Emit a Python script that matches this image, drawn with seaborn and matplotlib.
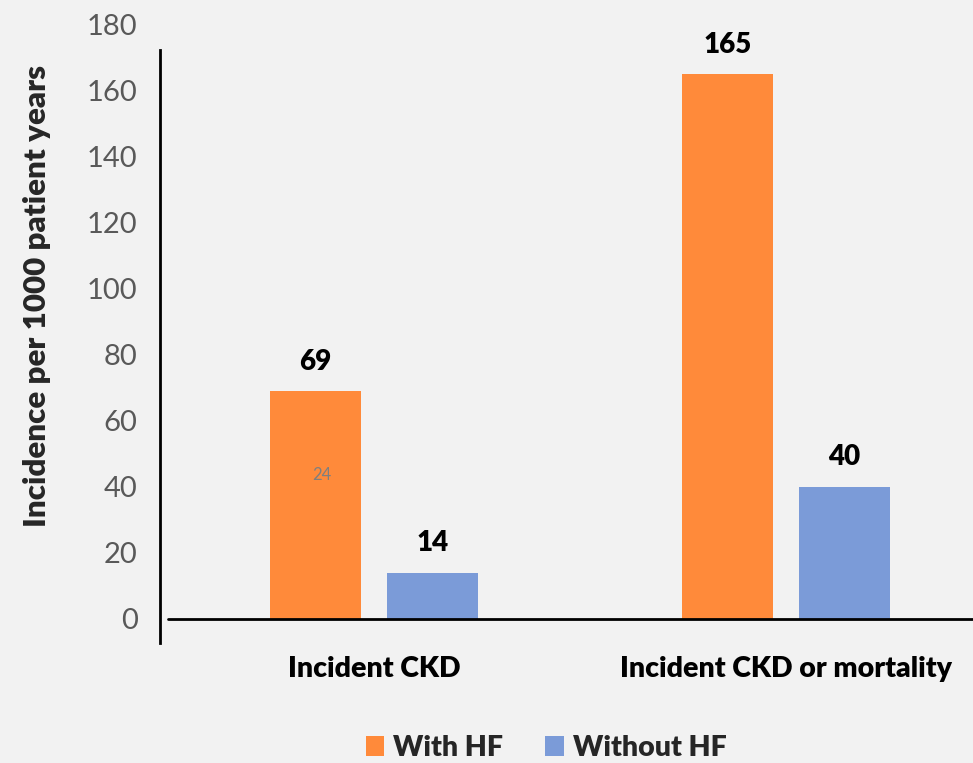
import matplotlib
matplotlib.use("Agg")
import matplotlib.pyplot as plt
import seaborn as sns
import pandas as pd

# Incidence per 1000 patient years
categories = ["Incident CKD", "Incident CKD or mortality"]
groups = ["With HF", "Without HF"]
with_hf = [69, 165]
without_hf = [14, 40]
y_ticks = [0, 20, 40, 60, 80, 100, 120, 140, 160, 180]

df = pd.DataFrame({
    "outcome": categories * 2,
    "group": [groups[0]] * len(categories) + [groups[1]] * len(categories),
    "value": with_hf + without_hf,
})

sns.set_theme(style="white")
plt.rcParams["font.family"] = ["Lato", "DejaVu Sans"]

bg = "#F2F2F2"
palette = {"With HF": "#FF8A3A", "Without HF": "#7B9BD8"}

fig = plt.figure(figsize=(9.73, 7.63), dpi=100, facecolor=bg)
ax = fig.add_axes([0.1644, 0.1455, 0.8356, 0.8304], facecolor=bg)

sns.barplot(data=df, x="outcome", y="value", hue="group", palette=palette,
            width=0.57, gap=0.225, saturation=1, linewidth=0, ax=ax, legend=True)

ax.set_xlim(-0.519, 1.454)
ax.set_ylim(-10, 182)
ax.set_yticks(y_ticks)
ax.set_xlabel("")
ax.set_ylabel("")

# value labels above each bar
for container in ax.containers:
    ax.bar_label(container, fmt="%d", padding=12, fontsize=20, fontweight="heavy",
                 color="black")

# stray label inside the first bar
ax.text(-0.126, 43.6, "24", ha="center", va="center", fontsize=12, color="#7F7F7F")

for s in ["top", "right", "bottom"]:
    ax.spines[s].set_visible(False)
ax.spines["left"].set_color("black")
ax.spines["left"].set_linewidth(2)
ax.spines["left"].set_bounds(-7.3, 172.4)
ax.axhline(0, xmin=0.0098, xmax=1, color="black", lw=2)

ax.tick_params(axis="y", length=0, pad=16, labelsize=21, labelcolor="#595959")
ax.tick_params(axis="x", length=0, pad=3, labelsize=20.5)
for lbl in ax.get_xticklabels():
    lbl.set_fontweight("heavy")
    lbl.set_color("black")

fig.text(37 / 973, 1 - 296 / 763, "Incidence per 1000 patient years",
         rotation=90, ha="center", va="center", fontsize=22.5, fontweight="heavy")

handles, labels = ax.get_legend_handles_labels()
ax.get_legend().remove()
leg = fig.legend(handles, labels, loc="center", bbox_to_anchor=(546 / 973, 1 - 748 / 763),
                 ncol=2, frameon=False, prop={"weight": "heavy", "size": 20.5},
                 handlelength=0.65, handleheight=0.65, handletextpad=0.3,
                 columnspacing=1.5)

fig.savefig("out.png", dpi=100, facecolor=bg)
